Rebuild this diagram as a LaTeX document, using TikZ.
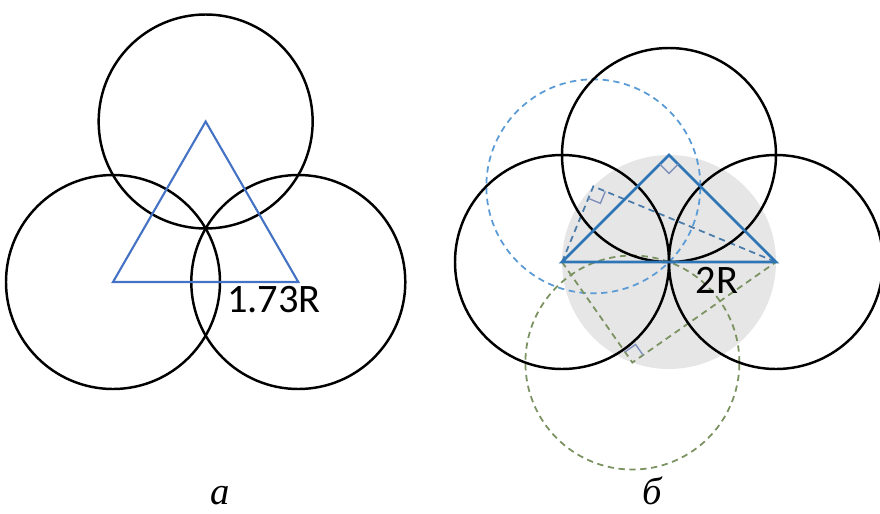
\documentclass[tikz,border=0pt]{standalone}
\usepackage{fontspec}
\setmainfont{Liberation Serif}
\newfontfamily\labfont{Carlito}
\usepackage{xcolor}
\usetikzlibrary{calc, positioning}

\definecolor{triblue}{HTML}{2E75B6}
\definecolor{liteblue}{HTML}{4472C4}
\definecolor{dashblue}{HTML}{5B9BD5}
\definecolor{dashgreen}{HTML}{7A9160}
\definecolor{markgray}{HTML}{7F90BC}
\definecolor{discgray}{HTML}{E6E6E6}

\tikzset{
    ring/.style={draw=black, line width=0.7pt},
    tri/.style={draw=triblue, line width=0.8pt},
    dashline/.style={line width=0.5pt, dash pattern=on 1.8pt off 1.3pt},
    ramk/.style={draw=markgray, line width=0.4pt},
    lab/.style={font=\labfont\fontsize{11.5}{12}\selectfont, inner sep=0pt},
    capt/.style={font=\itshape\fontsize{11}{12}\selectfont, inner sep=0pt, anchor=base}
}

% right angle mark at #1 between legs to #2 and #3
\newcommand{\ramark}[3]{
    \coordinate (m1) at ($(#1)!0.13cm!(#2)$);
    \coordinate (m2) at ($(#1)!0.13cm!(#3)$);
    \draw[ramk] (m1) -- ($(m1)+(m2)-(#1)$) -- (m2);
}

\begin{document}
\begin{tikzpicture}
    \useasboundingbox (0,0) rectangle (8.8,5.13);
    \def\R{1.07}

    % --- a: equilateral, side 1.73R
    \coordinate (aL) at (1.13,2.31);
    \coordinate (aR) at ($(aL)+(1.853,0)$);
    \coordinate (aT) at ($(aL)+(0.9265,1.605)$);
    \foreach \c in {aL,aR,aT}
        \draw[ring] (\c) circle[radius=\R];
    \draw[draw=liteblue, line width=0.6pt] (aL) -- (aR) -- (aT) -- cycle;
    \node[lab] (lenA) at (2.74,2.135) {1.73R};

    % --- b: right isosceles, hypotenuse 2R
    \coordinate (O) at (6.69,2.51);
    \coordinate (bL) at ($(O)+(-\R,0)$);
    \coordinate (bR) at ($(O)+(\R,0)$);
    \coordinate (bT) at ($(O)+(0,\R)$);
    \coordinate (C1) at ($(O)+(135:\R)$);
    \coordinate (C2) at ($(O)+(250:\R)$);

    \fill[discgray] (O) circle[radius=\R];   % Thales circle
    \draw[dashline, draw=dashblue] (C1) circle[radius=\R];
    \draw[dashline, draw=dashgreen] (C2) circle[radius=\R];
    \draw[dashline, draw=dashblue!80!black] (bL) -- (C1) -- (bR);
    \draw[dashline, draw=dashgreen] (bL) -- (C2) -- (bR);
    \foreach \c in {bL,bR,bT}
        \draw[ring] (\c) circle[radius=\R];
    \draw[tri] (bL) -- (bR) -- (bT) -- cycle;
    \ramark{bT}{bL}{bR}
    \ramark{C1}{bL}{bR}
    \ramark{C2}{bL}{bR}
    \node[lab] (lenB) at (7.17,2.33) {2R};

    % captions
    \node[capt] (capA) at (2.20,0.09) {а};
    \node[capt] (capB) at (6.52,0.09) {б};
\end{tikzpicture}
\end{document}
